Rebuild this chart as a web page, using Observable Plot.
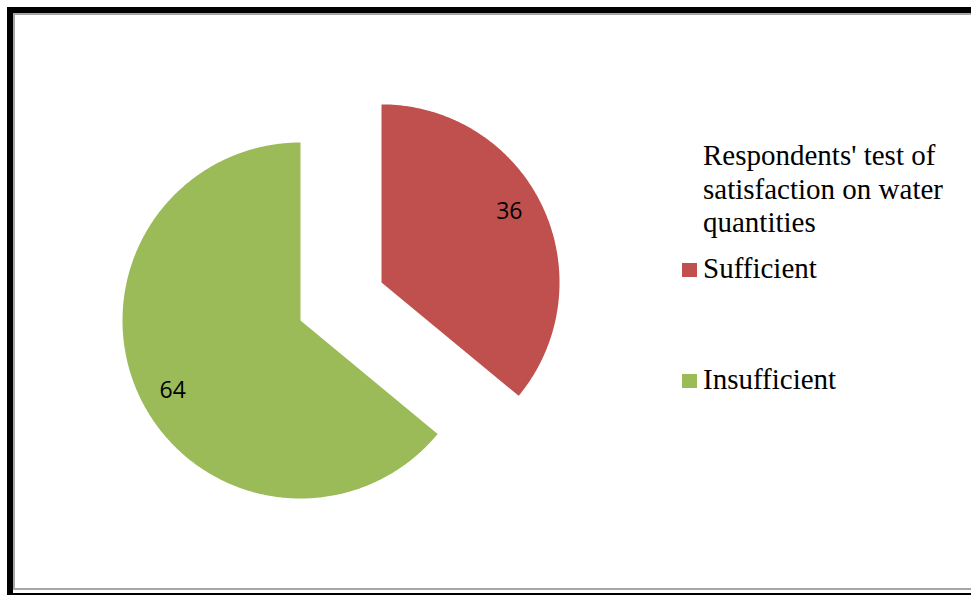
<!DOCTYPE html>
<html>
<head>
<meta charset="utf-8">
<script src="https://cdn.jsdelivr.net/npm/d3@7"></script>
<script src="https://cdn.jsdelivr.net/npm/@observablehq/plot@0.6"></script>
<style>
  html, body { margin: 0; padding: 0; background: #fff; }
  #wrap { position: relative; width: 971px; height: 595px; overflow: hidden; }
  #chart { position: absolute; left: 0; top: 0; }
  .b { position: absolute; pointer-events: none; }
  #legend { position: absolute; left: 681px; top: 139px; font-family: "Liberation Serif", "Times New Roman", serif; font-size: 29px; color: #000; }
  #legend .title { position: absolute; left: 22px; top: 0; line-height: 33.5px; white-space: nowrap; }
  #legend .item { position: absolute; left: 0; white-space: nowrap; }
  #legend .sw { position: absolute; left: 1px; width: 15px; height: 14px; }
  #legend .lab { position: absolute; left: 22px; }
</style>
</head>
<body>
<div id="wrap">
  <div id="chart"></div>
  <div class="b" style="left:7px;top:7px;width:964px;height:6px;background:#000"></div>
  <div class="b" style="left:7px;top:7px;width:6px;height:588px;background:#000"></div>
  <div class="b" style="left:13px;top:13px;width:958px;height:2px;background:#a6a6a6"></div>
  <div class="b" style="left:13px;top:13px;width:2px;height:577px;background:#a6a6a6"></div>
  <div class="b" style="left:13px;top:588px;width:958px;height:2px;background:#a6a6a6"></div>
  <div class="b" style="left:12px;top:593px;width:959px;height:2px;background:#000"></div>
  <div id="legend"></div>
</div>
<script>
const categories = ["Sufficient", "Insufficient"];
const values = [36, 64];
const colors = ["#C0504D", "#9BBB59"];
const legendTitle = ["Respondents' test of", "satisfaction on water", "quantities"];

// Layout constants (pixels)
const W = 971, H = 595, cx = 300, cy = 320, R = 178;
const explode = [0.503, 0];   // explosion distance as fraction of radius
const labelR = 0.82, labelTurn = -3.7 * Math.PI / 180;

const pie = d3.pie().sort(null).value(d => d.value);
const arcs = pie(categories.map((name, i) => ({name, value: values[i]})));

const pts = [];
const labels = [];
arcs.forEach((a, i) => {
  const mid = (a.startAngle + a.endAngle) / 2;
  const ox = explode[i] * Math.sin(mid), oy = explode[i] * Math.cos(mid);
  pts.push({name: a.data.name, x: ox, y: oy});
  const n = Math.max(2, Math.ceil((a.endAngle - a.startAngle) / (Math.PI / 360)));
  for (let k = 0; k <= n; k++) {
    const t = a.startAngle + (a.endAngle - a.startAngle) * k / n;
    pts.push({name: a.data.name, x: ox + Math.sin(t), y: oy + Math.cos(t)});
  }
  pts.push({name: a.data.name, x: ox, y: oy});
  const la = mid + labelTurn;
  labels.push({name: a.data.name, value: a.data.value, x: ox + labelR * Math.sin(la), y: oy + labelR * Math.cos(la)});
});

const chart = Plot.plot({
  width: W, height: H,
  marginLeft: 0, marginRight: 0, marginTop: 0, marginBottom: 0,
  style: {background: "transparent"},
  x: {domain: [-cx / R, (W - cx) / R], axis: null},
  y: {domain: [-(H - cy) / R, cy / R], axis: null},
  color: {domain: categories, range: colors},
  marks: [
    Plot.line(pts, {x: "x", y: "y", z: "name", fill: "name", stroke: "none", curve: "linear"}),
    Plot.text(labels, {x: "x", y: "y", text: d => String(d.value), fill: "#000", fontSize: 23, fontFamily: "Open Sans, Carlito, sans-serif"})
  ]
});
document.getElementById("chart").appendChild(chart);

// Legend
const lg = document.getElementById("legend");
const t = document.createElement("div");
t.className = "title";
t.innerHTML = legendTitle.join("<br>");
lg.appendChild(t);
const itemTops = [113, 224];
categories.forEach((c, i) => {
  const it = document.createElement("div");
  it.className = "item";
  it.style.top = itemTops[i] + "px";
  it.innerHTML = `<div class="sw" style="top:11px;background:${colors[i]}"></div><div class="lab">${c}</div>`;
  lg.appendChild(it);
});
</script>
</body>
</html>
